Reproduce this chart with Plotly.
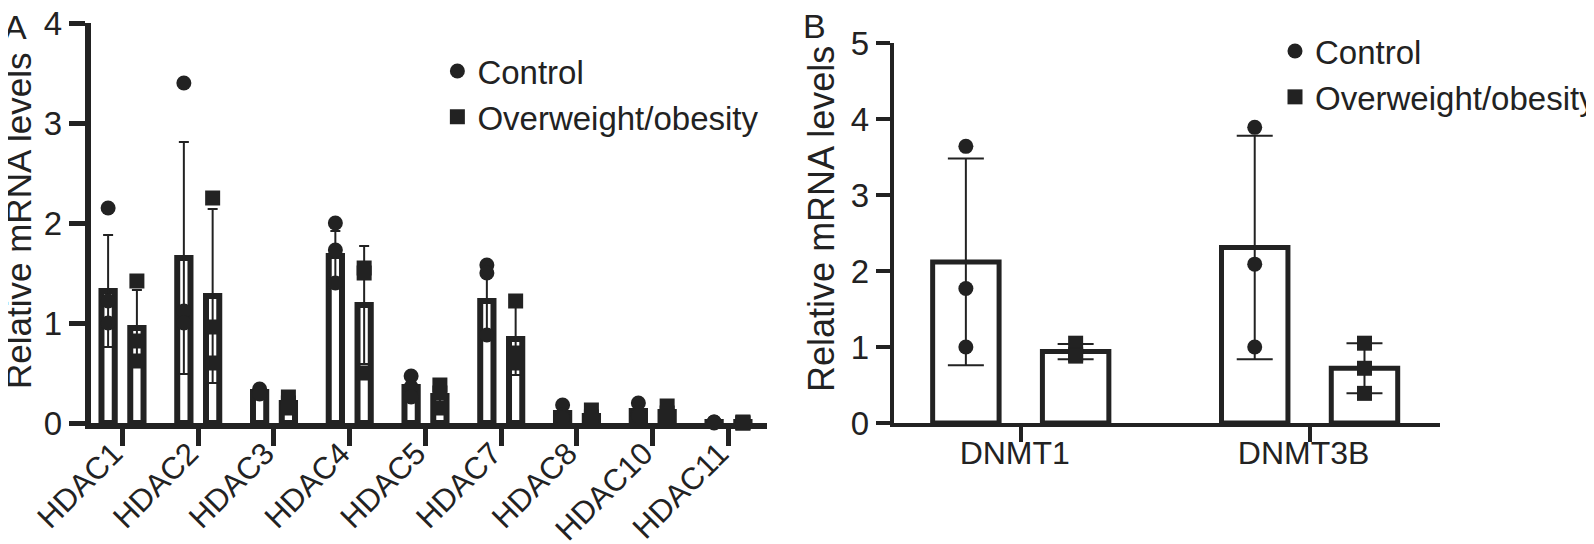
import plotly.graph_objects as go

# panel A - HDACs
hdac_genes = ["HDAC1", "HDAC2", "HDAC3", "HDAC4", "HDAC5", "HDAC7", "HDAC8", "HDAC10", "HDAC11"]
hdac_ctrl_mean = [1.32, 1.65, 0.31, 1.67, 0.36, 1.22, 0.10, 0.12, 0.01]
hdac_ctrl_sd = [0.56, 1.16, 0.04, 0.25, 0.10, 0.35, 0.07, 0.07, 0.01]
hdac_ow_mean = [0.95, 1.27, 0.20, 1.18, 0.27, 0.84, 0.07, 0.11, 0.01]
hdac_ow_sd = [0.38, 0.87, 0.06, 0.59, 0.10, 0.36, 0.05, 0.06, 0.01]
hdac_ctrl_pts = [[2.15, 1.22, 1.00], [3.40, 1.12, 1.00], [0.34, 0.31, 0.29],
                 [2.00, 1.73, 1.40], [0.47, 0.36, 0.26], [1.58, 1.50, 0.88],
                 [0.18, 0.08, 0.05], [0.20, 0.10, 0.07], [0.01, 0.01, 0.00]]
hdac_ow_pts = [[1.42, 0.82, 0.62], [2.25, 0.96, 0.60], [0.26, 0.20, 0.15],
               [1.55, 1.50, 0.50], [0.38, 0.30, 0.15], [1.22, 0.70, 0.60],
               [0.13, 0.06, 0.03], [0.17, 0.10, 0.06], [0.01, 0.00, 0.00]]
hdac_yticks = [0, 1, 2, 3, 4]

# panel B - DNMTs
dnmt_genes = ["DNMT1", "DNMT3B"]
dnmt_ctrl_mean = [2.12, 2.31]
dnmt_ctrl_sd = [1.36, 1.47]
dnmt_ow_mean = [0.94, 0.72]
dnmt_ow_sd = [0.10, 0.33]
dnmt_ctrl_pts = [[3.64, 1.77, 1.00], [3.89, 2.09, 1.00]]
dnmt_ow_pts = [[1.05, 0.90, 0.88], [1.05, 0.72, 0.39]]
dnmt_yticks = [0, 1, 2, 3, 4, 5]

INK = "#222222"
FONT = "Liberation Sans, Arial, sans-serif"
OFF = 0.19

fig = go.Figure()


def add_panel(genes, c_mean, c_sd, c_pts, o_mean, o_sd, o_pts, xa, ya, legend, bw, cap, lw, msize):
    idx = list(range(len(genes)))
    groups = [(c_mean, c_sd, c_pts, -OFF, "circle", "Control"),
              (o_mean, o_sd, o_pts, OFF, "square", "Overweight/obesity")]
    for mean, sd, pts, off, sym, name in groups:
        fig.add_trace(go.Bar(
            x=[i + off for i in idx], y=mean, width=bw,
            marker=dict(color="white", line=dict(color=INK, width=lw)),
            error_y=dict(type="data", array=sd, color=INK, thickness=2, width=cap),
            xaxis=xa, yaxis=ya, showlegend=False, hoverinfo="skip"))
    for mean, sd, pts, off, sym, name in groups:
        xs, ys = [], []
        for i, p in zip(idx, pts):
            xs += [i + off] * len(p)
            ys += p
        fig.add_trace(go.Scatter(
            x=xs, y=ys, mode="markers", name=name,
            marker=dict(symbol=sym, size=msize, color=INK, line=dict(width=0)),
            xaxis=xa, yaxis=ya, legend=legend, cliponaxis=False))


add_panel(hdac_genes, hdac_ctrl_mean, hdac_ctrl_sd, hdac_ctrl_pts,
          hdac_ow_mean, hdac_ow_sd, hdac_ow_pts, "x", "y", "legend", 0.175, 5, 6, 15)
add_panel(dnmt_genes, dnmt_ctrl_mean, dnmt_ctrl_sd, dnmt_ctrl_pts,
          dnmt_ow_mean, dnmt_ow_sd, dnmt_ow_pts, "x2", "y2", "legend2", 0.23, 18, 5, 15)

W, H = 1594, 544
axis_common = dict(showline=True, linecolor=INK, showgrid=False, zeroline=False,
                   ticks="outside", tickcolor=INK, automargin=False, ticklabeloverflow="allow")
ytickfont = dict(family=FONT, size=33, color=INK)
legfont = dict(family=FONT, size=33, color=INK)

fig.update_layout(
    width=W, height=H, margin=dict(l=0, r=0, t=0, b=0),
    template="none", paper_bgcolor="white", plot_bgcolor="white",
    barmode="overlay", font=dict(family=FONT, size=33, color=INK),
    xaxis=dict(domain=[83 / W, 762 / W], range=[-0.42, 8.51], anchor="y",
               tickmode="array", tickvals=list(range(len(hdac_genes))), ticktext=hdac_genes,
               tickangle=-45, linewidth=6, ticklen=17, tickwidth=5,
               tickfont=dict(family=FONT, size=31, color=INK),
               ticklabelstandoff=-23, ticklabelshift=-9, **axis_common),
    yaxis=dict(domain=[1 - 415 / H, 1 - 15 / H], range=[0, 4], anchor="x",
               tickmode="array", tickvals=hdac_yticks,
               linewidth=6, ticklen=16, tickwidth=5, tickfont=ytickfont, **axis_common),
    xaxis2=dict(domain=[889 / W, 1437 / W], range=[-0.44, 1.45], anchor="y2",
                tickmode="array", tickvals=list(range(len(dnmt_genes))), ticktext=dnmt_genes,
                linewidth=4, ticklen=15, tickwidth=4,
                tickfont=dict(family=FONT, size=32, color=INK),
                ticklabelstandoff=-16, ticklabelshift=-6, **axis_common),
    yaxis2=dict(domain=[1 - 415 / H, 1 - 35 / H], range=[0, 5], anchor="x2",
                tickmode="array", tickvals=dnmt_yticks,
                linewidth=4, ticklen=14, tickwidth=4, tickfont=ytickfont, **axis_common),
    legend=dict(x=431 / W, y=1 - 35 / H, xanchor="left", yanchor="top",
                bgcolor="rgba(0,0,0,0)", font=legfont, tracegroupgap=0),
    legend2=dict(x=1272 / W, y=1 - 15 / H, xanchor="left", yanchor="top",
                 bgcolor="rgba(0,0,0,0)", font=legfont, tracegroupgap=0),
    annotations=[
        dict(text="A", x=0, y=1 - 19 / H, xref="paper", yref="paper", xshift=-6,
             xanchor="left", yanchor="middle", showarrow=False, font=dict(size=34)),
        dict(text="B", x=796 / W, y=1 - 18 / H, xref="paper", yref="paper",
             xanchor="left", yanchor="middle", showarrow=False, font=dict(size=34)),
        dict(text="Relative mRNA levels", x=11 / W, y=1 - 212 / H, xref="paper", yref="paper",
             xanchor="center", yanchor="middle", textangle=-90, showarrow=False,
             font=dict(size=35)),
        dict(text="Relative mRNA levels", x=816 / W, y=1 - 211 / H, xref="paper", yref="paper",
             xanchor="center", yanchor="middle", textangle=-90, showarrow=False,
             font=dict(size=36)),
    ],
)

fig.write_html("out.html")
